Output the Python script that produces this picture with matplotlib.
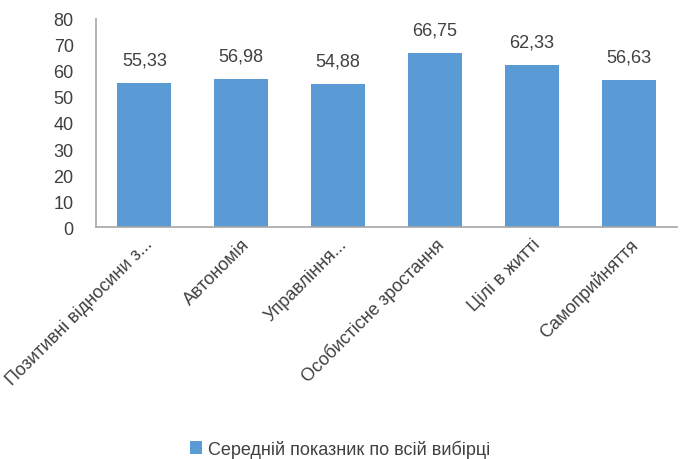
import matplotlib
matplotlib.use('Agg')
import matplotlib.pyplot as plt
import numpy as np

plt.rcParams['font.family'] = ['Liberation Sans Narrow', 'Liberation Sans', 'DejaVu Sans']

categories = ['Позитивні відносини з...', 'Автономія', 'Управління...',
              'Особистісне зростання', 'Цілі в житті', 'Самоприйняття']
values = [55.33, 56.98, 54.88, 66.75, 62.33, 56.63]
series_name = 'Середній показник по всій вибірці'

bar_color = '#5b9bd5'
axis_color = '#a6a6a6'
text_color = '#404040'

fig = plt.figure(figsize=(6.8, 4.6), dpi=100)
ax = fig.add_axes([0.141, 0.504, 0.855, 0.453])

x = np.arange(len(categories))
bars = ax.bar(x, values, width=0.56, color=bar_color, label=series_name, zorder=2)

for xi, v in zip(x, values):
    ax.text(xi, v + 5.5, f'{v:.2f}'.replace('.', ','), ha='center', va='bottom',
            fontsize=13, color=text_color)

ax.set_xlim(-0.5, len(categories) - 0.5)
ax.set_ylim(0, 80)
ax.set_yticks(range(0, 81, 10))
ax.tick_params(axis='y', length=0, labelsize=13, labelcolor=text_color, pad=16)
ax.tick_params(axis='x', length=0, labelsize=13, labelcolor=text_color, pad=6)
ax.set_xticks(x)
ax.set_xticklabels(categories, rotation=45, ha='right', rotation_mode='anchor')

for side in ['top', 'right']:
    ax.spines[side].set_visible(False)
for side in ['left', 'bottom']:
    ax.spines[side].set_color(axis_color)
    ax.spines[side].set_linewidth(1.2)

fig.legend(handles=[bars], labels=[series_name], loc='center', bbox_to_anchor=(0.5, 0.022),
           frameon=False, fontsize=13, handlelength=0.7, handleheight=0.7,
           handletextpad=0.3, labelcolor=text_color)

fig.savefig('out.png', dpi=100)
